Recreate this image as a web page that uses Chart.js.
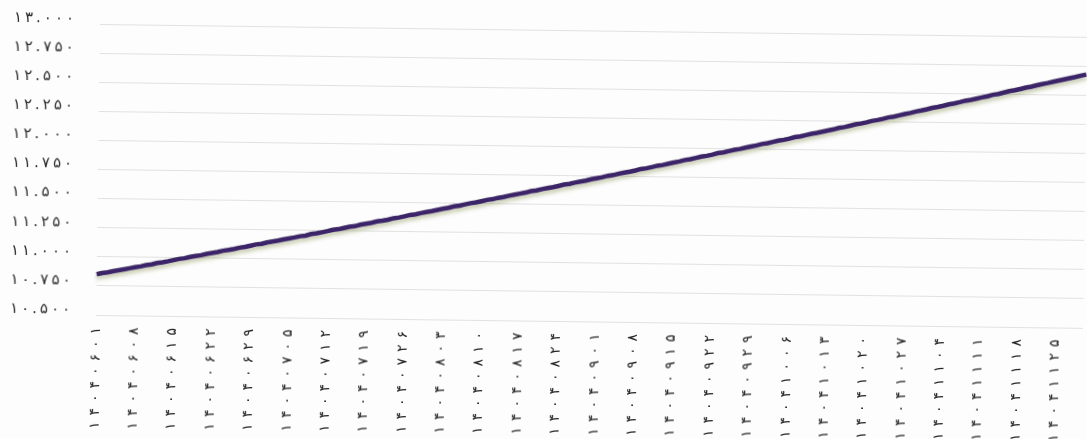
<!DOCTYPE html>
<html>
<head>
<meta charset="utf-8">
<script src="https://cdn.jsdelivr.net/npm/chart.js@4/dist/chart.umd.min.js"></script>
<style>
  html, body { margin: 0; padding: 0; background: #fdfdfd; overflow: hidden; }
  #wrap { width: 1087px; height: 439px; }
  #chart { transform: rotate(0.75deg); transform-origin: 100px 170px; }
</style>
</head>
<body>
<div id="wrap"><canvas id="chart" width="1087" height="439"></canvas></div>
<script>
//-----------------------------------------
//  DATA (daily, 1404/06/01 .. 1404/11/30)
//-----------------------------------------

const dates = [
    '14040601','14040602','14040603','14040604','14040605','14040606','14040607','14040608','14040609','14040610',
    '14040611','14040612','14040613','14040614','14040615','14040616','14040617','14040618','14040619','14040620',
    '14040621','14040622','14040623','14040624','14040625','14040626','14040627','14040628','14040629','14040630','14040631',
    '14040701','14040702','14040703','14040704','14040705','14040706','14040707','14040708','14040709','14040710',
    '14040711','14040712','14040713','14040714','14040715','14040716','14040717','14040718','14040719','14040720',
    '14040721','14040722','14040723','14040724','14040725','14040726','14040727','14040728','14040729','14040730',
    '14040801','14040802','14040803','14040804','14040805','14040806','14040807','14040808','14040809','14040810',
    '14040811','14040812','14040813','14040814','14040815','14040816','14040817','14040818','14040819','14040820',
    '14040821','14040822','14040823','14040824','14040825','14040826','14040827','14040828','14040829','14040830',
    '14040901','14040902','14040903','14040904','14040905','14040906','14040907','14040908','14040909','14040910',
    '14040911','14040912','14040913','14040914','14040915','14040916','14040917','14040918','14040919','14040920',
    '14040921','14040922','14040923','14040924','14040925','14040926','14040927','14040928','14040929','14040930',
    '14041001','14041002','14041003','14041004','14041005','14041006','14041007','14041008','14041009','14041010',
    '14041011','14041012','14041013','14041014','14041015','14041016','14041017','14041018','14041019','14041020',
    '14041021','14041022','14041023','14041024','14041025','14041026','14041027','14041028','14041029','14041030',
    '14041101','14041102','14041103','14041104','14041105','14041106','14041107','14041108','14041109','14041110',
    '14041111','14041112','14041113','14041114','14041115','14041116','14041117','14041118','14041119','14041120',
    '14041121','14041122','14041123','14041124','14041125','14041126','14041127','14041128','14041129','14041130'
];

const values = [
    10.850, 10.861, 10.867, 10.878, 10.886, 10.895, 10.905,
    10.915, 10.922, 10.934, 10.940, 10.953, 10.960, 10.969,
    10.980, 10.991, 10.997, 11.009, 11.018, 11.025, 11.037,
    11.046, 11.054, 11.066, 11.073, 11.082, 11.094, 11.101,
    11.112, 11.124, 11.130, 11.142, 11.150, 11.159, 11.170,
    11.179, 11.188, 11.199, 11.205, 11.219, 11.226, 11.236,
    11.246, 11.258, 11.264, 11.275, 11.286, 11.292, 11.305,
    11.314, 11.323, 11.335, 11.342, 11.351, 11.364, 11.371,
    11.382, 11.394, 11.400, 11.412, 11.422, 11.430, 11.441,
    11.451, 11.460, 11.473, 11.480, 11.491, 11.502, 11.509,
    11.520, 11.532, 11.539, 11.551, 11.559, 11.571, 11.580,
    11.590, 11.599, 11.612, 11.619, 11.631, 11.640, 11.649,
    11.660, 11.672, 11.679, 11.691, 11.701, 11.709, 11.722,
    11.731, 11.740, 11.753, 11.760, 11.773, 11.782, 11.791,
    11.802, 11.815, 11.822, 11.833, 11.845, 11.852, 11.864,
    11.874, 11.884, 11.897, 11.905, 11.916, 11.928, 11.936,
    11.947, 11.960, 11.967, 11.979, 11.990, 11.998, 12.010,
    12.020, 12.030, 12.043, 12.051, 12.062, 12.074, 12.082,
    12.093, 12.106, 12.113, 12.125, 12.137, 12.145, 12.156,
    12.167, 12.177, 12.190, 12.198, 12.210, 12.222, 12.230,
    12.241, 12.254, 12.262, 12.273, 12.286, 12.294, 12.305,
    12.317, 12.327, 12.340, 12.349, 12.360, 12.373, 12.381,
    12.392, 12.405, 12.414, 12.425, 12.438, 12.446, 12.457,
    12.468, 12.478, 12.492, 12.500, 12.512, 12.525, 12.534,
    12.545, 12.557, 12.566, 12.579, 12.590, 12.599, 12.611,
    12.622, 12.633, 12.644, 12.654, 12.666, 12.677
];

// dates that get a label on the x axis (one a week)
const tickLabels = [
    '14040601','14040608','14040615','14040622','14040629','14040705','14040712',
    '14040719','14040726','14040803','14040810','14040817','14040824','14040901',
    '14040908','14040915','14040922','14040929','14041006','14041013','14041020',
    '14041027','14041104','14041111','14041118','14041125'
];

const yMin = 10.5;
const yMax = 13.0;
const yStep = 0.25;

//-----------------------------------------
//  HELPERS
//-----------------------------------------

const faDigits = '۰۱۲۳۴۵۶۷۸۹';
function toFa(s) {
    return String(s).replace(/[0-9]/g, d => faDigits[+d]);
}

// the original tick text is spread out: draw each label char by char
// so that it fills a fixed length
function drawSpaced(scale, area, targetLen, dy) {
    const c = scale.ctx;
    const items = scale.getLabelItems(area);
    for (const item of items) {
        const text = String(item.label || '');
        if (!text) continue;
        const o = item.options;
        c.save();
        c.font = item.font.string;
        c.fillStyle = o.color;
        c.translate(o.translation[0], o.translation[1] + dy);
        c.rotate(o.rotation);
        c.textBaseline = o.textBaseline;
        c.textAlign = 'left';
        const chars = [...text];
        const widths = chars.map(ch => c.measureText(ch).width);
        const natural = widths.reduce((a, b) => a + b, 0);
        const gap = Math.max(0, (targetLen - natural) / (chars.length - 1));
        const total = natural + gap * (chars.length - 1);
        let x = o.textAlign === 'right' ? -total : (o.textAlign === 'center' ? -total / 2 : 0);
        chars.forEach((ch, i) => {
            c.fillText(ch, x, item.textOffset);
            x += widths[i] + gap;
        });
        c.restore();
    }
}

Chart.CategoryScale.prototype.drawLabels = function (area) {
    drawSpaced(this, area, 102, 0);
};
Chart.LinearScale.prototype.drawLabels = function (area) {
    drawSpaced(this, area, 60, -5);
};

// soft shadow under the line
const lineShadow = {
    id: 'lineShadow',
    beforeDatasetsDraw(chart) {
        const c = chart.ctx;
        c.save();
        c.shadowColor = 'rgba(120, 130, 60, 0.45)';
        c.shadowBlur = 4;
        c.shadowOffsetY = 3;
    },
    afterDatasetsDraw(chart) {
        chart.ctx.restore();
    }
};

//-----------------------------------------
//  CHART
//-----------------------------------------

const ctx = document.getElementById('chart').getContext('2d');

new Chart(ctx, {
    type: 'line',
    data: {
        labels: dates,
        datasets: [{
            data: values,
            borderColor: '#3b2468',
            borderWidth: 4.5,
            pointRadius: 0,
            tension: 0,
            fill: false
        }]
    },
    options: {
        responsive: false,
        animation: false,
        layout: { padding: { top: 24, right: 2, left: 0, bottom: 0 } },
        plugins: {
            legend: { display: false },
            tooltip: { enabled: false }
        },
        scales: {
            x: {
                grid: { display: false },
                border: { display: false },
                ticks: {
                    autoSkip: false,
                    minRotation: 90,
                    maxRotation: 90,
                    padding: 4,
                    color: '#222222',
                    font: { family: 'DejaVu Sans', size: 14 },
                    callback: function (val, i) {
                        const d = dates[i];
                        return tickLabels.includes(d) ? toFa(d) : '';
                    }
                },
                afterFit: function (scale) {
                    scale.height = 124;
                    scale.paddingLeft = 0;
                    scale.paddingRight = 0;
                }
            },
            y: {
                min: yMin,
                max: yMax,
                grid: { color: '#e1e1e1', lineWidth: 1, drawTicks: false },
                border: { display: false },
                ticks: {
                    stepSize: yStep,
                    padding: 26,
                    color: '#2a2a2a',
                    font: { family: 'DejaVu Sans', size: 15 },
                    callback: v => toFa(v.toFixed(3))
                },
                afterFit: function (scale) {
                    scale.width = 98;
                    scale.paddingTop = 0;
                    scale.paddingBottom = 0;
                }
            }
        }
    },
    plugins: [lineShadow]
});
</script>
</body>
</html>
